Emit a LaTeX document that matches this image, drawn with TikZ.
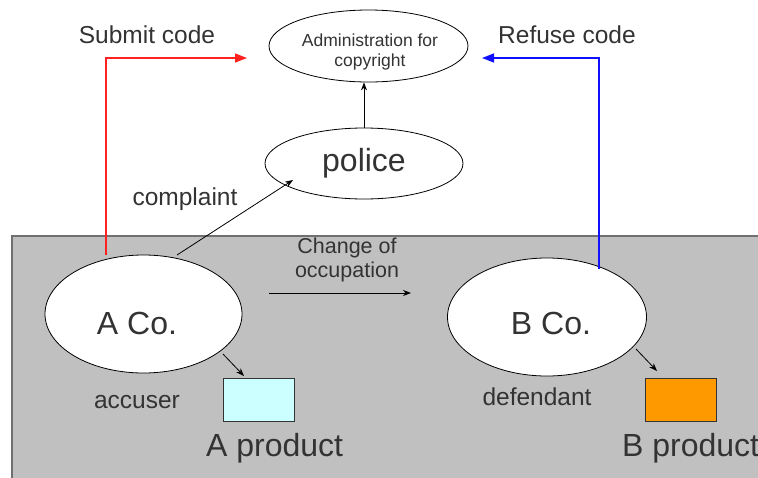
\documentclass[tikz,border=0pt]{standalone}
\usepackage{fontspec}
\setmainfont{Liberation Sans}
\usetikzlibrary{shapes.geometric,arrows.meta}
\definecolor{txt}{HTML}{333333}
\definecolor{bg}{HTML}{C0C0C0}
\definecolor{bgline}{HTML}{707070}
\definecolor{cyanbox}{HTML}{CCFFFF}
\definecolor{orangebox}{HTML}{FF9900}
\definecolor{redline}{HTML}{FF2020}
\definecolor{blueline}{HTML}{1010FF}
\tikzset{
  ell/.style={ellipse, draw=black, line width=0.8pt, fill=white, inner sep=0pt, text=txt},
  prodbox/.style={rectangle, draw=black!80, line width=1pt, minimum width=71pt, minimum height=43pt, inner sep=0pt},
  lbl/.style={text=txt, inner sep=0pt, font=\fontsize{24.5}{28}\selectfont},
  big/.style={text=txt, inner sep=0pt, font=\fontsize{32}{36}\selectfont},
  thinarrow/.style={draw=black, line width=0.8pt, -{Stealth[length=8pt,width=6pt]}},
  codearrow/.style={line width=1.6pt, -{Triangle[length=12pt,width=9pt]}}
}
\begin{document}
\begin{tikzpicture}[x=1pt,y=-1pt]
\useasboundingbox (0,0) rectangle (758,477);
% background panel
\fill[bg] (12,236) rectangle (760,480);
\draw[bgline, line width=1.5pt] (12,480) -- (12,236) -- (760,236);

% ellipses
\node[ell, minimum width=199pt, minimum height=72pt] (admin) at (368.5,46) {};
\node[text=txt, inner sep=0pt, align=center, font=\fontsize{17.5}{20}\selectfont] (admintxt) at (370,52) {Administration for\\copyright};
\node[ell, minimum width=198pt, minimum height=71pt, font=\fontsize{32}{36}\selectfont] (police) at (364,163.5) {police};
\node[ell, minimum width=197pt, minimum height=118pt] (aco) at (143.5,314) {};
\node[big] (acotxt) at (137,323) {A Co.};
\node[ell, minimum width=199pt, minimum height=118pt] (bco) at (547,317) {};
\node[big] (bcotxt) at (551,323) {B Co.};

% product boxes
\node[prodbox, fill=cyanbox] (aprod) at (258.5,399.5) {};
\node[prodbox, fill=orangebox] (bprod) at (680.5,399.5) {};

% labels
\node[lbl] (submit) at (147,35) {Submit code};
\node[lbl] (refuse) at (567,35) {Refuse code};
\node[lbl] (complaint) at (185,199) {complaint};
\node[lbl] (accuser) at (137,402) {accuser};
\node[lbl] (defendant) at (537,397) {defendant};
\node[text=txt, inner sep=0pt, align=center, font=\fontsize{21.5}{24}\selectfont] (change) at (347,260) {Change of\\occupation};
\node[big, anchor=west] (aprodlbl) at (206,448) {A product};
\node[big, anchor=west] (bprodlbl) at (622,448) {B product};

% connectors
\coordinate (redstart) at (106,255);
\coordinate (redcorner) at (106,58);
\coordinate (redend) at (247,58);
\draw[codearrow, draw=redline] (redstart) -- (redcorner) -- (redend);
\coordinate (bluestart) at (599,269);
\coordinate (bluecorner) at (599,58);
\coordinate (blueend) at (482,58);
\draw[codearrow, draw=blueline] (bluestart) -- (bluecorner) -- (blueend);

\draw[thinarrow] (police.north) -- (police.north |- admin.south);
\coordinate (compstart) at (177,255);
\coordinate (compend) at (293,180);
\draw[thinarrow] (compstart) -- (compend);
\coordinate (chgstart) at (269,293);
\coordinate (chgend) at (411,293);
\draw[thinarrow] (chgstart) -- (chgend);
\coordinate (aarrs) at (223,354);
\coordinate (aarre) at (244,376);
\draw[thinarrow] (aarrs) -- (aarre);
\coordinate (barrs) at (636,349);
\coordinate (barre) at (657,371);
\draw[thinarrow] (barrs) -- (barre);
\end{tikzpicture}
\end{document}
